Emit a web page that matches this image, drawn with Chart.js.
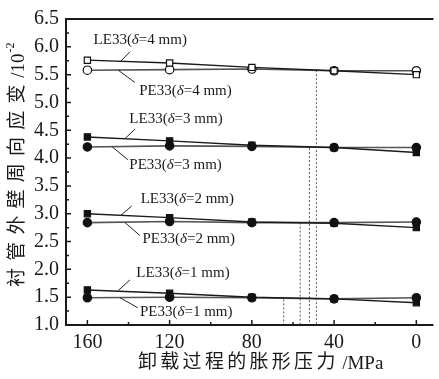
<!DOCTYPE html>
<html>
<head>
<meta charset="utf-8">
<script src="https://cdn.jsdelivr.net/npm/chart.js@4.4.0/dist/chart.umd.min.js"></script>
<style>
  html, body { margin: 0; padding: 0; background: #fff; }
  #wrap { width: 439px; height: 379px; }
</style>
</head>
<body>
<div id="wrap"><canvas id="chart" width="439" height="379"></canvas></div>
<script>
// pressão de expansão no descarregamento (MPa)
const pressure = [160, 120, 80, 40, 0];

// deformação circunferencial /10^-2
const le4 = [5.76, 5.71, 5.63, 5.57, 5.50];
const pe4 = [5.58, 5.59, 5.60, 5.57, 5.57];
const le3 = [4.38, 4.31, 4.23, 4.19, 4.10];
const pe3 = [4.20, 4.22, 4.21, 4.19, 4.19];
const le2 = [3.00, 2.93, 2.85, 2.83, 2.75];
const pe2 = [2.84, 2.86, 2.84, 2.84, 2.85];
const le1 = [1.63, 1.57, 1.50, 1.47, 1.40];
const pe1 = [1.49, 1.50, 1.49, 1.47, 1.49];

// linhas pontilhadas verticais (cruzamentos)
const crossX = [48.6, 52.0, 56.5, 64.5];
const crossY = [5.58, 4.18, 2.84, 1.46];

// rótulos das curvas
const labelName = ['LE33', 'PE33', 'LE33', 'PE33', 'LE33', 'PE33', 'LE33', 'PE33'];
const labelDelta = [4, 4, 3, 3, 2, 2, 1, 1];
const labelX = [134.3, 112.3, 116.9, 117.1, 111.4, 110.7, 113.5, 111.9];
const labelY = [6.12, 5.21, 4.70, 3.88, 3.26, 2.55, 1.93, 1.24];

// linhas de chamada dos rótulos
const leaderX1 = [139.3, 145.0, 136.9, 147.9, 138.4, 141.7, 139.3, 144.1];
const leaderY1 = [5.91, 5.58, 4.52, 4.20, 3.14, 2.84, 1.81, 1.49];
const leaderX2 = [144.1, 136.9, 141.7, 140.3, 144.1, 134.5, 145.0, 135.5];
const leaderY2 = [5.73, 5.36, 4.35, 3.97, 2.96, 2.61, 1.62, 1.31];

const yTicks = [1.0, 1.5, 2.0, 2.5, 3.0, 3.5, 4.0, 4.5, 5.0, 5.5, 6.0, 6.5];
const xTicks = [160, 120, 80, 40, 0];

const SERIF = '"Liberation Serif", "Times New Roman", serif';
const CJK = '"Liberation Serif", "Noto Sans CJK SC", serif';

function toPoints(values) {
    return pressure.map((p, i) => ({ x: p, y: values[i] }));
}

function seriesDataset(values, style, open) {
    return {
        data: toPoints(values),
        showLine: true,
        borderColor: style === 'LE' ? '#1a1a1a' : '#555',
        borderWidth: style === 'LE' ? 1.4 : 1.6,
        pointStyle: style === 'LE' ? 'rect' : 'circle',
        pointRadius: style === 'LE' ? 4.4 : 4.2,
        pointBackgroundColor: open ? '#fff' : '#111',
        pointBorderColor: '#111',
        pointBorderWidth: 1.2,
        order: 1
    };
}

const datasets = [
    seriesDataset(le4, 'LE', true),
    seriesDataset(pe4, 'PE', true),
    seriesDataset(le3, 'LE', false),
    seriesDataset(pe3, 'PE', false),
    seriesDataset(le2, 'LE', false),
    seriesDataset(pe2, 'PE', false),
    seriesDataset(le1, 'LE', false),
    seriesDataset(pe1, 'PE', false)
];

crossX.forEach((x, i) => {
    datasets.push({
        data: [{ x: x, y: crossY[i] }, { x: x, y: 1.0 }],
        showLine: true,
        borderColor: '#555',
        borderWidth: 1,
        borderDash: [2, 2],
        pointRadius: 0,
        order: 2
    });
});

leaderX1.forEach((x, i) => {
    datasets.push({
        data: [{ x: x, y: leaderY1[i] }, { x: leaderX2[i], y: leaderY2[i] }],
        showLine: true,
        borderColor: '#222',
        borderWidth: 1,
        pointRadius: 0,
        order: 0
    });
});

// desenha moldura, ticks internos, rótulos e títulos
const decorPlugin = {
    id: 'decor',
    afterDraw(chart) {
        const ctx = chart.ctx;
        const area = chart.chartArea;
        const xs = chart.scales.x;
        const ys = chart.scales.y;

        ctx.save();
        ctx.strokeStyle = '#1a1a1a';
        ctx.lineWidth = 2;
        ctx.beginPath();
        ctx.moveTo(area.right, area.top);
        ctx.lineTo(area.left, area.top);
        ctx.lineTo(area.left, area.bottom);
        ctx.lineTo(area.right, area.bottom);
        ctx.stroke();

        // ticks internos
        ctx.lineWidth = 1.5;
        ctx.beginPath();
        for (let v = 1.0; v <= 6.5001; v += 0.25) {
            const py = ys.getPixelForValue(v);
            const major = Math.abs(v * 2 - Math.round(v * 2)) < 1e-6;
            ctx.moveTo(area.left, py);
            ctx.lineTo(area.left + (major ? 5 : 3), py);
        }
        for (let v = 0; v <= 160; v += 20) {
            const px = xs.getPixelForValue(v);
            const major = v % 40 === 0;
            ctx.moveTo(px, area.bottom);
            ctx.lineTo(px, area.bottom - (major ? 5 : 3));
        }
        ctx.stroke();

        // rótulos das curvas
        ctx.fillStyle = '#1a1a1a';
        ctx.textBaseline = 'middle';
        labelName.forEach((name, i) => {
            const cx = xs.getPixelForValue(labelX[i]);
            const cy = ys.getPixelForValue(labelY[i]);
            const parts = [
                { t: name + '(', f: '15px ' + SERIF },
                { t: 'δ', f: 'italic 15px ' + SERIF },
                { t: '=' + labelDelta[i] + ' mm)', f: '15px ' + SERIF }
            ];
            let w = 0;
            parts.forEach(p => { ctx.font = p.f; p.w = ctx.measureText(p.t).width; w += p.w; });
            let x = cx - w / 2;
            ctx.textAlign = 'left';
            parts.forEach(p => { ctx.font = p.f; ctx.fillText(p.t, x, cy); x += p.w; });
        });

        // título do eixo x
        drawSpaced(ctx, '卸载过程的胀形压力', ' /MPa', null, 138, 363, 22.3);

        // título do eixo y (rotacionado)
        ctx.translate(18, 287);
        ctx.rotate(-Math.PI / 2);
        drawSpaced(ctx, '衬管外壁周向应变', ' /10', '-2', 0, 0, 26.2);
        ctx.restore();
    }
};

function drawSpaced(ctx, cjk, tail, sup, x0, y0, pitch) {
    ctx.fillStyle = '#1a1a1a';
    ctx.textBaseline = 'middle';
    ctx.textAlign = 'left';
    ctx.font = '19px ' + CJK;
    let x = x0;
    for (const ch of cjk) {
        ctx.fillText(ch, x, y0);
        x += pitch;
    }
    x -= pitch - 21;
    ctx.font = '19px ' + SERIF;
    ctx.fillText(tail, x, y0 + 1);
    x += ctx.measureText(tail).width;
    if (sup) {
        ctx.font = '12px ' + SERIF;
        ctx.fillText(sup, x + 1, y0 - 7);
    }
}

new Chart(document.getElementById('chart'), {
    type: 'scatter',
    data: { datasets: datasets },
    options: {
        responsive: false,
        animation: false,
        layout: { padding: { left: 0, right: 0, top: 15, bottom: 0 } },
        plugins: {
            legend: { display: false },
            tooltip: { enabled: false }
        },
        scales: {
            x: {
                type: 'linear',
                reverse: true,
                min: -8.3,
                max: 170.4,
                grid: { display: false, drawTicks: false },
                border: { display: false },
                afterBuildTicks: scale => { scale.ticks = xTicks.map(v => ({ value: v })); },
                afterFit: scale => { scale.height = 54; },
                ticks: {
                    padding: 6,
                    color: '#1a1a1a',
                    font: { family: SERIF, size: 20 },
                    maxRotation: 0,
                    callback: v => String(v)
                }
            },
            y: {
                type: 'linear',
                min: 1.0,
                max: 6.5,
                grid: { display: false, drawTicks: false },
                border: { display: false },
                afterBuildTicks: scale => { scale.ticks = yTicks.map(v => ({ value: v })); },
                afterFit: scale => { scale.width = 66; },
                ticks: {
                    padding: 7,
                    color: '#1a1a1a',
                    font: { family: SERIF, size: 20 },
                    callback: v => Number(v).toFixed(1)
                }
            }
        }
    },
    plugins: [decorPlugin]
});
</script>
</body>
</html>
